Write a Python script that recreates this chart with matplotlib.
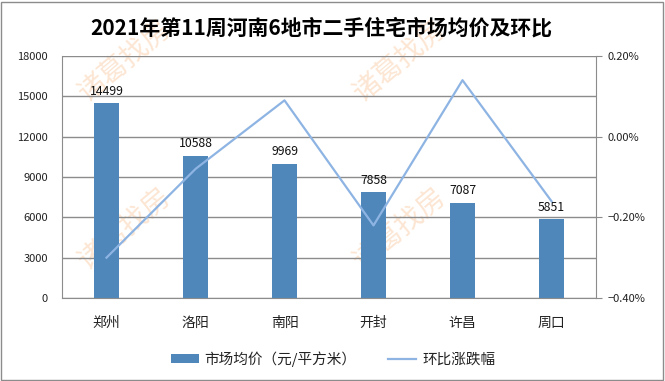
import matplotlib
matplotlib.use("Agg")
import matplotlib.pyplot as plt
from matplotlib.patches import Rectangle
import numpy as np

plt.rcParams['font.family'] = ['Noto Sans CJK SC', 'DejaVu Sans']

title = "2021年第11周河南6地市二手住宅市场均价及环比"
cities = ["郑州", "洛阳", "南阳", "开封", "许昌", "周口"]
prices = [14499, 10588, 9969, 7858, 7087, 5851]
changes = [-0.30, -0.08, 0.09, -0.22, 0.14, -0.16]  # percent
left_ticks = [0, 3000, 6000, 9000, 12000, 15000, 18000]
right_ticks = [-0.40, -0.20, 0.00, 0.20]
bar_label = "市场均价（元/平方米）"
line_label = "环比涨跌幅"

W, H = 665, 381
fig = plt.figure(figsize=(W / 100, H / 100), dpi=100)
ax = fig.add_axes([62 / W, 1 - 298 / H, (596 - 62) / W, (298 - 56) / H])
ax.patch.set_alpha(0)

x = np.arange(len(cities))
bar_color = "#4F87BA"
line_color = "#8EB4E3"
bars = ax.bar(x, prices, width=0.27, color=bar_color, zorder=2, label=bar_label)
for xi, v in zip(x, prices):
    ax.annotate(str(v), (xi, v), xytext=(0, 4), textcoords="offset points",
                ha="center", va="bottom", fontsize=8.8, color="#111111")

ax.set_xlim(-0.5, len(cities) - 0.5)
ax.set_ylim(0, 18000)
ax.set_yticks(left_ticks)
ax.set_yticklabels([str(t) for t in left_ticks], fontsize=8, color="#222222")
ax.tick_params(axis="y", length=0, pad=10)
ax.set_xticks(x)
ax.set_xticklabels(cities, fontsize=10, color="#222222")
ax.tick_params(axis="x", length=0, pad=13)
ax.grid(axis="y", color="#8C8C8C", linewidth=1.0, zorder=0)
ax.set_axisbelow(True)
for s in ["top", "right"]:
    ax.spines[s].set_visible(False)
ax.spines["left"].set_color("#8C8C8C")
ax.spines["bottom"].set_color("#8C8C8C")

ax2 = ax.twinx()
ax2.patch.set_alpha(0)
line, = ax2.plot(x, changes, color=line_color, linewidth=1.6, zorder=3, label=line_label)
ax2.set_ylim(-0.40, 0.20)
ax2.set_yticks(right_ticks)
ax2.set_yticklabels([f"{t:.2f}%".replace("-", "−") for t in right_ticks], fontsize=8, color="#222222")
ax2.tick_params(axis="y", which="major", length=4, color="#8C8C8C", pad=4)
for s in ["top", "left", "bottom"]:
    ax2.spines[s].set_visible(False)
ax2.spines["right"].set_color("#8C8C8C")

fig.text(321 / W, 1 - 28 / H, title, ha="center", va="center", fontsize=15,
         fontweight="bold", color="#000000")

leg = fig.legend(handles=[bars, line], labels=[bar_label, line_label],
                 loc="center", bbox_to_anchor=(333 / W, 1 - 359 / H), ncol=2,
                 frameon=False, fontsize=10.5, handlelength=1.9, handleheight=0.6,
                 columnspacing=2.2, handletextpad=0.4)
for t in leg.get_texts():
    t.set_color("#222222")

# watermark
wm_pos = [(125, 60), (400, 60), (125, 228), (400, 228)]
for (px, py) in wm_pos:
    fig.text(px / W, 1 - py / H, "诸葛找房", ha="center", va="center", fontsize=20,
             rotation=40, color="#FCE6D3", zorder=-5)

fig.patches.append(Rectangle((1 / W, 1 / H), (W - 3) / W, (H - 3) / H, transform=fig.transFigure,
                             fill=False, edgecolor="#8C8C8C", linewidth=1.0, zorder=10))

fig.savefig("out.png", dpi=100)
